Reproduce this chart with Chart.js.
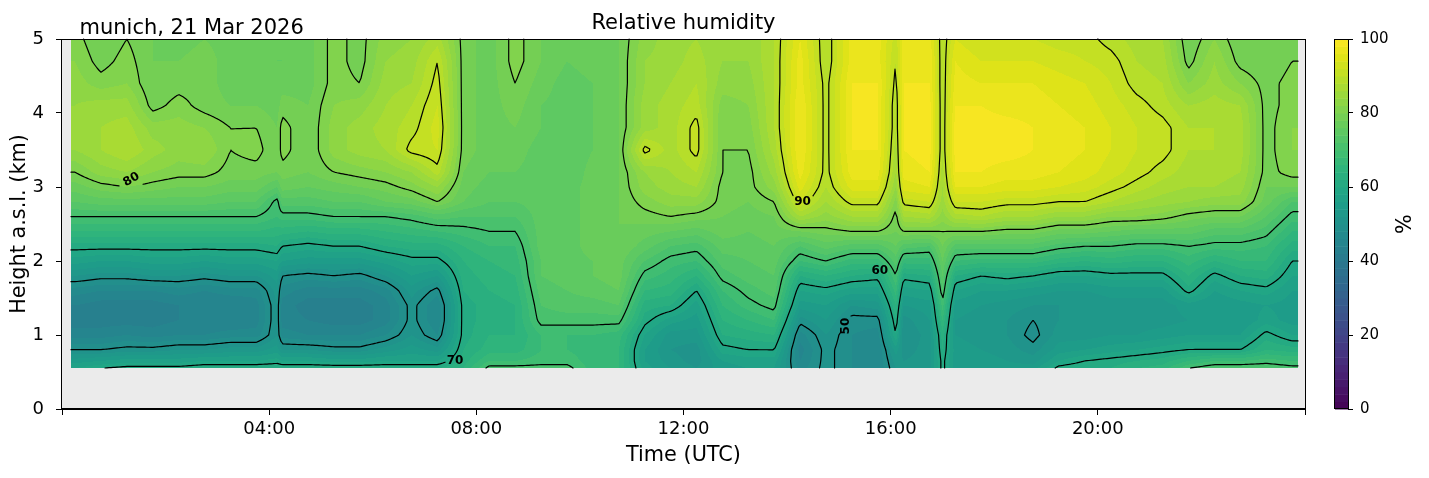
<!DOCTYPE html>
<html>
<head>
<meta charset="utf-8">
<script src="https://cdn.jsdelivr.net/npm/chart.js@4.4.1/dist/chart.umd.min.js"></script>
<style>
  html, body { margin: 0; padding: 0; background: #fff; }
</style>
</head>
<body>
<canvas id="rhChart" width="1429" height="478"></canvas>
<script>
// Höhen der Profilstufen (km a.s.l.), von unten nach oben
const heights = [0.55, 0.65, 0.8, 1.0, 1.2, 1.4, 1.6, 1.8, 2.0, 2.2, 2.4, 2.6, 2.8, 3.0, 3.2, 3.5, 3.8, 4.1, 4.4, 4.7, 5.0];

// Zeitpunkte der Profile (Stunden UTC)
const times = [0.25, 0.75, 1.25, 1.75, 2.25, 2.75, 3.25, 3.75, 4.15, 4.25, 4.75, 5.25, 5.75, 6.25, 6.75, 7.25, 7.75,
  8.25, 8.75, 9.25, 9.75, 10.25, 10.75, 11.25, 11.75, 12.25, 12.75, 13.25, 13.75, 14.25, 14.75, 15.25, 15.75,
  16.1, 16.25, 16.75, 17.0, 17.25, 17.75, 18.25, 18.75, 19.25, 19.75, 20.25, 20.75, 21.25, 21.75, 22.25, 22.75,
  23.25, 23.75];

// relative Feuchte (%) je Profil, unten -> oben
const p0015 = [58,55,50,45,43,44,47,52,57,61,66,70,74,77,80,84,85,84,83,82,81];
const p0045 = [60,56,50,45,43,43,46,51,56,61,66,70,75,79,83,86,86,85,81,79,78];
const p0115 = [61,57,51,46,43,43,46,51,56,61,66,70,75,80,84,88,87,85,82,81,80];
const p0145 = [61,57,51,45,43,43,46,52,57,61,66,70,75,79,82,85,83,79,78,78,78];
const p0215 = [61,57,52,46,44,44,47,52,57,61,66,70,75,78,81,83,83,81,79,78,77];
const p0245 = [62,58,52,46,44,44,46,51,56,61,66,70,75,78,81,84,82,79,79,79,78];
const p0315 = [62,58,53,47,44,44,47,52,57,61,66,70,74,77,79,80,80,78,77,77,77];
const p0345 = [62,58,53,47,45,45,47,52,57,61,66,70,74,77,79,81,80,78,77,77,77];
const p0409 = [62,59,55,52,52,52,53,55,58,62,65,68,69,74,78,78,78,77,77,76,76];
const p0415 = [62,58,52,47,45,45,47,50,56,60,65,69,73,77,79,81,81,79,77,76,76];
const p0445 = [62,58,52,46,44,43,45,49,55,59,64,69,73,76,78,78,78,78,77,77,77];
const p0515 = [62,57,51,46,43,43,45,50,55,60,65,70,74,77,80,83,83,82,81,81,81];
const p0545 = [62,57,51,46,43,43,45,49,55,60,65,70,74,78,81,85,85,83,80,79,79];
const p0615 = [62,58,53,48,45,45,47,52,57,62,66,70,76,79,82,86,87,86,85,84,83];
const p0645 = [62,58,55,52,51,51,53,56,59,63,67,71,77,81,84,91,89,88,86,85,84];
const p0715 = [62,58,53,48,46,46,49,54,59,63,68,73,80,84,89,92,93,92,91,90,87];
const p0745 = [64,63,62,61,61,61,62,63,64,66,69,72,76,77,78,79,79,79,79,79,79];
const p0815 = [71,68,65,64,63,63,64,65,66,68,70,72,74,75,76,77,77,77,77,77,77];
const p0845 = [71,68,65,64,64,64,65,66,67,68,70,72,74,75,76,77,78,79,80,81,81];
const p0915 = [71,69,68,68,71,72,73,74,74,75,75,75,75,75,75,75,76,76,77,78,78];
const p0945 = [71,69,68,68,71,73,74,75,75,75,75,75,75,75,74,74,74,75,75,76,76];
const p1015 = [67,67,67,68,71,73,75,76,76,77,77,77,77,77,77,76,76,76,76,77,77];
const p1045 = [66,66,66,67,71,74,76,77,77,78,78,78,78,78,78,78,78,78,78,78,78];
const p1115 = [57,56,56,58,61,63,66,69,72,75,77,79,81,83,84,91,85,85,84,84,83];
const p1145 = [54,53,52,53,57,62,65,67,69,72,76,80,83,85,86,87,87,87,86,85,85];
const p1215 = [52,51,51,53,55,57,60,64,68,71,75,79,83,86,88,91,91,89,88,87,86];
const p1245 = [55,56,59,62,64,66,68,71,73,75,77,78,79,79,80,80,80,81,83,84,84];
const p1315 = [56,57,60,63,66,69,71,73,74,75,76,77,78,79,79,80,81,82,83,84,84];
const p1345 = [56,57,60,64,68,71,73,74,75,76,77,78,80,83,85,87,88,88,88,88,88];
const p1415 = [47,46,45,47,51,55,58,62,68,72,78,86,92,95,97,98,98,98,97,97,96];
const p1445 = [51,51,51,52,54,56,59,64,70,75,79,83,86,88,89,89,89,89,89,88,88];
const p1515 = [48,48,48,48,49,52,57,62,67,73,80,86,91,95,97,98,98,98,98,97,97];
const p1545 = [46,46,46,47,49,53,57,61,67,73,80,86,91,95,97,98,98,98,98,97,97];
const p1606 = [52,53,55,60,62,64,67,70,73,76,78,79,81,84,86,87,88,88,89,90,91];
const p1615 = [53,52,51,50,51,54,57,61,67,73,80,86,91,95,97,98,98,98,98,97,97];
const p1645 = [53,53,53,53,54,55,58,62,67,72,80,87,92,96,98,99,99,99,98,98,97];
const p1700 = [61,61,62,63,66,69,72,74,76,78,80,83,85,86,87,88,88,88,88,88,88];
const p1715 = [55,55,55,54,54,55,58,62,68,73,80,87,92,96,98,99,99,98,97,96,94];
const p1745 = [55,55,54,53,53,54,56,60,67,73,80,88,92,96,98,99,99,98,96,94,92];
const p1815 = [55,54,53,52,52,53,56,61,67,73,79,86,91,95,97,99,99,97,96,94,92];
const p1845 = [55,53,51,49,50,52,55,60,67,73,79,86,91,95,97,98,98,97,96,94,92];
const p1915 = [61,58,55,53,52,52,54,58,65,71,77,84,90,94,96,97,97,96,95,93,91];
const p1945 = [62,60,56,53,52,52,54,58,64,70,77,84,90,93,95,96,96,95,94,92,91];
const p2015 = [62,61,57,54,53,53,55,59,65,70,76,82,88,91,93,94,94,93,92,91,89];
const p2045 = [64,62,58,54,53,53,55,59,64,69,75,82,86,89,91,92,92,91,89,88,87];
const p2115 = [65,63,59,55,53,53,55,59,64,69,75,81,85,87,89,91,91,89,88,87,86];
const p2145 = [70,66,60,56,54,55,61,64,67,70,75,79,84,86,87,88,88,86,82,79,78];
const p2215 = [72,68,60,56,54,54,56,59,64,69,73,78,83,86,87,88,88,87,85,84,82];
const p2245 = [72,68,60,56,54,55,58,62,66,69,73,78,83,85,86,87,87,86,82,79,78];
const p2315 = [72,69,64,61,57,56,59,63,66,68,71,74,77,78,79,79,79,79,79,78,78];
const p2345 = [71,68,63,58,55,55,56,58,60,63,66,69,72,78,81,82,82,81,81,80,79];

const profiles = [p0015, p0045, p0115, p0145, p0215, p0245, p0315, p0345, p0409, p0415, p0445, p0515, p0545,
  p0615, p0645, p0715, p0745, p0815, p0845, p0915, p0945, p1015, p1045, p1115, p1145, p1215, p1245, p1315,
  p1345, p1415, p1445, p1515, p1545, p1606, p1615, p1645, p1700, p1715, p1745, p1815, p1845, p1915, p1945,
  p2015, p2045, p2115, p2145, p2215, p2245, p2315, p2345];

// Messbereich
const dataStart = 0.18, dataEnd = 23.87, dataBottom = 0.555;

// Konturlinien und ihre Beschriftungen
const contourLevels = [50, 60, 70, 80, 90];
const contourLabels = [
  { t: 1.34, h: 3.10, text: '80', rot: -30 },
  { t: 14.30, h: 2.80, text: '90', rot: 0 },
  { t: 15.79, h: 1.87, text: '60', rot: 0 },
  { t: 15.13, h: 1.12, text: '50', rot: -90 },
  { t: 7.59, h: 0.65, text: '70', rot: 0 }
];

const xTicks = [0, 4, 8, 12, 16, 20, 24];
const cbarTicks = [0, 20, 40, 60, 80, 100];

// viridis Farbtabelle
const viridisStops = ['#440154','#471365','#482475','#463480','#414487','#3b528b','#355f8d','#2f6c8e','#2a788e',
  '#25858e','#21918c','#1e9c89','#22a884','#2fb47c','#44bf70','#5ec962','#7ad151','#9bd93c','#bddf26','#dfe318','#fde725'];
const stopRGB = viridisStops.map(h => [parseInt(h.slice(1,3),16), parseInt(h.slice(3,5),16), parseInt(h.slice(5,7),16)]);
function viridis(u) {
  u = Math.max(0, Math.min(1, u)) * (stopRGB.length - 1);
  const i = Math.min(stopRGB.length - 2, Math.floor(u)), f = u - i;
  return stopRGB[i].map((c, k) => Math.round(c + (stopRGB[i + 1][k] - c) * f));
}
// 2%-Stufen wie contourf
const bandRGB = [];
for (let b = 0; b < 50; b++) bandRGB.push(viridis((b * 2 + 1) / 100));
const bandOf = v => Math.max(0, Math.min(49, Math.floor(v / 2)));

function locate(arr, v) {
  const n = arr.length;
  if (v <= arr[0]) return [0, 0];
  if (v >= arr[n - 1]) return [n - 2, 1];
  let i = 0;
  while (arr[i + 1] < v) i++;
  return [i, (v - arr[i]) / (arr[i + 1] - arr[i])];
}
function rhAt(c, r) {
  const [i, f] = c, [j, g] = r;
  const A = profiles[i], B = profiles[i + 1];
  return (1 - f) * ((1 - g) * A[j] + g * A[j + 1]) + f * ((1 - g) * B[j] + g * B[j + 1]);
}

const FONT = '"DejaVu Sans", sans-serif';

const fieldPlugin = {
  id: 'rhField',
  beforeDatasetsDraw(chart) {
    const { ctx, chartArea: a } = chart;
    const xs = chart.scales.x, ys = chart.scales.y;
    ctx.save();
    ctx.fillStyle = '#ebebeb';
    ctx.fillRect(a.left, a.top, a.right - a.left, a.bottom - a.top);

    const x0 = Math.round(xs.getPixelForValue(dataStart));
    const x1 = Math.round(xs.getPixelForValue(dataEnd));
    const y0 = Math.round(ys.getPixelForValue(heights[heights.length - 1]));
    const y1 = Math.round(ys.getPixelForValue(dataBottom));
    const w = x1 - x0, h = y1 - y0;

    const cols = [], rows = [];
    for (let i = 0; i < w; i++) cols.push(locate(times, xs.getValueForPixel(x0 + i + 0.5)));
    for (let j = 0; j < h; j++) rows.push(locate(heights, ys.getValueForPixel(y0 + j + 0.5)));

    const off = document.createElement('canvas');
    off.width = w; off.height = h;
    const octx = off.getContext('2d');
    const img = octx.createImageData(w, h);
    for (let j = 0; j < h; j++) {
      for (let i = 0; i < w; i++) {
        const c = bandRGB[bandOf(rhAt(cols[i], rows[j]))];
        const k = (j * w + i) * 4;
        img.data[k] = c[0]; img.data[k + 1] = c[1]; img.data[k + 2] = c[2]; img.data[k + 3] = 255;
      }
    }
    octx.putImageData(img, 0, 0);
    ctx.drawImage(off, x0, y0);

    // Labelboxen, in denen die Linien ausgespart werden
    ctx.font = 'bold 12px ' + FONT;
    const boxes = contourLabels.map(l => {
      const px = xs.getPixelForValue(l.t), py = ys.getPixelForValue(l.h);
      const tw = ctx.measureText(l.text).width / 2 + 2, th = 6;
      const r = Math.abs(l.rot) * Math.PI / 180;
      const hw = tw * Math.cos(r) + th * Math.sin(r), hh = tw * Math.sin(r) + th * Math.cos(r);
      return { px, py, hw, hh, l };
    });
    const masked = (mx, my) => boxes.some(b => Math.abs(mx - b.px) < b.hw && Math.abs(my - b.py) < b.hh);

    // Konturen per marching squares auf feinem Raster
    const step = 2;
    const gx = [], gy = [];
    for (let p = x0; p < x1; p += step) gx.push(p);
    gx.push(x1);
    for (let p = y0; p < y1; p += step) gy.push(p);
    gy.push(y1);
    const gcols = gx.map(p => locate(times, xs.getValueForPixel(p)));
    const G = gy.map(p => {
      const r = locate(heights, ys.getValueForPixel(p));
      return gcols.map(c => rhAt(c, r));
    });

    ctx.strokeStyle = '#000';
    ctx.lineWidth = 1.2;
    ctx.lineJoin = 'round';
    ctx.lineCap = 'round';
    contourLevels.forEach(L => {
      ctx.beginPath();
      for (let j = 0; j < gy.length - 1; j++) {
        for (let i = 0; i < gx.length - 1; i++) {
          const va = G[j][i], vb = G[j][i + 1], vc = G[j + 1][i + 1], vd = G[j + 1][i];
          const code = (va > L ? 8 : 0) | (vb > L ? 4 : 0) | (vc > L ? 2 : 0) | (vd > L ? 1 : 0);
          if (code === 0 || code === 15) continue;
          const xa = gx[i], xb = gx[i + 1], ya = gy[j], yb = gy[j + 1];
          const top = () => [xa + (xb - xa) * (L - va) / (vb - va), ya];
          const right = () => [xb, ya + (yb - ya) * (L - vb) / (vc - vb)];
          const bottom = () => [xa + (xb - xa) * (L - vd) / (vc - vd), yb];
          const left = () => [xa, ya + (yb - ya) * (L - va) / (vd - va)];
          const segs = [];
          const centre = (va + vb + vc + vd) / 4 > L;
          switch (code) {
            case 1: case 14: segs.push([left(), bottom()]); break;
            case 2: case 13: segs.push([bottom(), right()]); break;
            case 3: case 12: segs.push([left(), right()]); break;
            case 4: case 11: segs.push([top(), right()]); break;
            case 6: case 9: segs.push([top(), bottom()]); break;
            case 7: case 8: segs.push([left(), top()]); break;
            case 5:
              if (centre) { segs.push([left(), top()]); segs.push([bottom(), right()]); }
              else { segs.push([top(), right()]); segs.push([left(), bottom()]); }
              break;
            case 10:
              if (centre) { segs.push([top(), right()]); segs.push([left(), bottom()]); }
              else { segs.push([left(), top()]); segs.push([bottom(), right()]); }
              break;
          }
          segs.forEach(([p, q]) => {
            if (masked((p[0] + q[0]) / 2, (p[1] + q[1]) / 2)) return;
            ctx.moveTo(p[0], p[1]);
            ctx.lineTo(q[0], q[1]);
          });
        }
      }
      ctx.stroke();
    });

    // Beschriftungen
    ctx.fillStyle = '#000';
    ctx.textAlign = 'center';
    ctx.textBaseline = 'middle';
    boxes.forEach(b => {
      ctx.save();
      ctx.translate(b.px, b.py);
      ctx.rotate(b.l.rot * Math.PI / 180);
      ctx.fillText(b.l.text, 0, 0);
      ctx.restore();
    });
    ctx.restore();
  },
  afterDraw(chart) {
    const { ctx, chartArea: a } = chart;
    const cb = chart.scales.cb;
    ctx.save();
    // Rahmen
    ctx.strokeStyle = '#000';
    ctx.lineWidth = 1;
    ctx.strokeRect(Math.round(a.left) - 0.5, Math.round(a.top) + 0.5, Math.round(a.right - a.left) + 1, Math.round(a.bottom - a.top) - 1);

    // Farbskala
    const bw = 13, bx = cb.left - bw;
    for (let b = 0; b < 50; b++) {
      const ya = cb.getPixelForValue(b * 2 + 2), yb = cb.getPixelForValue(b * 2);
      const c = bandRGB[b];
      ctx.fillStyle = 'rgb(' + c.join(',') + ')';
      ctx.fillRect(bx, ya, bw, yb - ya + 0.5);
    }
    ctx.strokeRect(bx - 0.5, Math.round(cb.top) + 0.5, bw + 1, Math.round(cb.bottom - cb.top) - 1);

    ctx.fillStyle = '#000';
    ctx.font = '20.8px ' + FONT;
    ctx.textAlign = 'center';
    ctx.textBaseline = 'middle';
    ctx.save();
    ctx.translate(1406, (cb.top + cb.bottom) / 2);
    ctx.rotate(-Math.PI / 2);
    ctx.fillText('%', 0, 0);
    ctx.restore();

    // Titel
    ctx.font = '21px ' + FONT;
    ctx.textBaseline = 'alphabetic';
    ctx.textAlign = 'center';
    ctx.fillText('Relative humidity', (a.left + a.right) / 2, 29);
    ctx.textAlign = 'left';
    ctx.fillText('munich, 21 Mar 2026', 79.5, 33.5);
    ctx.restore();
  }
};

new Chart(document.getElementById('rhChart'), {
  type: 'scatter',
  data: { datasets: [] },
  options: {
    responsive: false,
    animation: false,
    devicePixelRatio: 1,
    layout: { padding: { top: 39, left: 0, right: 0, bottom: 0 } },
    plugins: { legend: { display: false }, tooltip: { enabled: false } },
    scales: {
      x: {
        type: 'linear', position: 'bottom', min: 0, max: 24,
        afterBuildTicks: s => { s.ticks = xTicks.map(v => ({ value: v })); },
        ticks: {
          autoSkip: false, maxRotation: 0, padding: 4, color: '#000',
          font: { family: FONT, size: 18 },
          callback: v => (v > 0 && v < 24) ? String(v).padStart(2, '0') + ':00' : ''
        },
        grid: { drawOnChartArea: false, drawTicks: true, tickLength: 6, color: '#000' },
        border: { display: true, color: '#000' },
        title: { display: true, text: 'Time (UTC)', color: '#000', font: { family: FONT, size: 20.8 }, padding: { top: 0, bottom: 10 } },
        afterFit: s => { s.height = 69; }
      },
      y: {
        type: 'linear', position: 'left', min: 0, max: 5,
        ticks: { stepSize: 1, padding: 12, color: '#000', font: { family: FONT, size: 18 } },
        grid: { drawOnChartArea: false, drawTicks: true, tickLength: 6, color: '#000' },
        border: { display: true, color: '#000' },
        title: { display: true, text: 'Height a.s.l. (km)', color: '#000', font: { family: FONT, size: 20.8 }, padding: { top: 7, bottom: 0 } },
        afterFit: s => { s.width = 62; }
      },
      gap: {
        type: 'linear', position: 'right', weight: 0, min: 0, max: 1,
        ticks: { display: false }, grid: { display: false }, border: { display: false },
        afterFit: s => { s.width = 43; }
      },
      cb: {
        type: 'linear', position: 'right', weight: 1, min: 0, max: 100,
        afterBuildTicks: s => { s.ticks = cbarTicks.map(v => ({ value: v })); },
        ticks: { padding: 7, color: '#000', font: { family: FONT, size: 15 } },
        grid: { drawOnChartArea: false, drawTicks: true, tickLength: 5, color: '#000' },
        border: { display: false },
        afterFit: s => { s.width = 81; }
      }
    }
  },
  plugins: [fieldPlugin]
});
</script>
</body>
</html>
